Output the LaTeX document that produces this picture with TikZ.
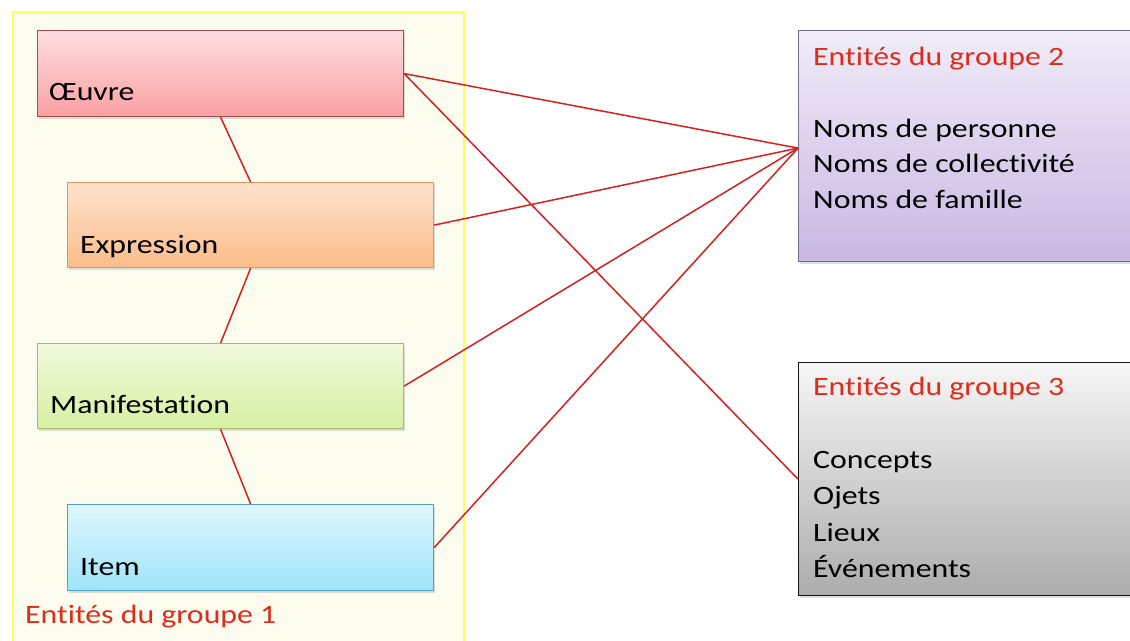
\documentclass[tikz,border=0pt]{standalone}
\usepackage{fontspec}
\setmainfont{Carlito}[FakeStretch=1.2, RawFeature={-liga;-clig;-calt;-dlig}]
\usetikzlibrary{shadows}
\definecolor{bgyellow}{RGB}{252,253,238}
\definecolor{bdyellow}{RGB}{255,255,90}
\definecolor{linered}{RGB}{212,32,32}
\definecolor{headred}{RGB}{222,44,28}
\definecolor{oeuvtop}{RGB}{253,222,224}
\definecolor{oeuvbot}{RGB}{251,160,163}
\definecolor{oeuvbd}{RGB}{165,75,75}
\definecolor{exptop}{RGB}{254,226,206}
\definecolor{expbot}{RGB}{252,189,138}
\definecolor{expbd}{RGB}{228,150,90}
\definecolor{mantop}{RGB}{241,249,220}
\definecolor{manbot}{RGB}{214,240,162}
\definecolor{manbd}{RGB}{160,190,100}
\definecolor{itemtop}{RGB}{222,246,253}
\definecolor{itembot}{RGB}{158,229,250}
\definecolor{itembd}{RGB}{80,160,190}
\definecolor{g2top}{RGB}{240,236,248}
\definecolor{g2bot}{RGB}{201,183,227}
\definecolor{g2bd}{RGB}{120,110,140}
\definecolor{g3top}{RGB}{246,246,246}
\definecolor{g3bot}{RGB}{172,172,172}
\definecolor{g3bd}{RGB}{20,20,20}
\tikzset{
  entbox/.style={rectangle, inner sep=0pt, anchor=north west, line width=1.2pt,
    drop shadow={shadow xshift=1.5pt, shadow yshift=-2pt, opacity=0.25}},
  boxtext/.style={anchor=base west, inner sep=0pt, font=\fontsize{26.5}{34}\selectfont, text=black},
  headtext/.style={boxtext, text=headred},
  link/.style={draw=linered, line width=1.5pt}
}
\begin{document}
\begin{tikzpicture}[x=1pt,y=-1pt]
\useasboundingbox (0,0) rectangle (1130,640);
% group 1 frame
\node[rectangle, anchor=north west, inner sep=0pt, fill=bgyellow, draw=bdyellow, line width=1.5pt,
  minimum width=451pt, minimum height=640pt] (g1) at (12,11) {};
% entity boxes
\node[entbox, minimum width=366pt, minimum height=86pt, top color=oeuvtop, bottom color=oeuvbot, draw=oeuvbd] (oeuvre) at (37,30) {};
\node[entbox, minimum width=366pt, minimum height=85pt, top color=exptop, bottom color=expbot, draw=expbd] (expr) at (67,182) {};
\node[entbox, minimum width=366pt, minimum height=85pt, top color=mantop, bottom color=manbot, draw=manbd] (manif) at (37,343) {};
\node[entbox, minimum width=366pt, minimum height=86pt, top color=itemtop, bottom color=itembot, draw=itembd] (item) at (67,504) {};
\node[boxtext] (toeuvre) at (49,100) {Œuvre};
\node[boxtext] (texpr) at (80,253) {Expression};
\node[boxtext] (tmanif) at (50,413) {Manifestation};
\node[boxtext] (titem) at (80,575) {Item};
\node[headtext] (tg1) at (25,623) {Entités du groupe 1};
% group 2
\node[entbox, minimum width=340pt, minimum height=231pt, top color=g2top, bottom color=g2bot, draw=g2bd] (g2) at (798,30) {};
\node[headtext] (tg2) at (813,65) {Entités du groupe 2};
\node[boxtext] (g2a) at (813,137) {Noms de personne};
\node[boxtext] (g2b) at (813,172.5) {Noms de collectivité};
\node[boxtext] (g2c) at (813,208) {Noms de famille};
% group 3
\node[entbox, minimum width=340pt, minimum height=233pt, top color=g3top, bottom color=g3bot, draw=g3bd] (g3) at (798,362) {};
\node[headtext] (tg3) at (813,395) {Entités du groupe 3};
\node[boxtext] (g3a) at (813,468) {Concepts};
\node[boxtext] (g3b) at (813,504) {Ojets};
\node[boxtext] (g3c) at (813,541) {Lieux};
\node[boxtext] (g3d) at (813,577) {Événements};
% connectors
\coordinate (hub) at ([yshift=-2pt]g2.west);
\draw[link] (oeuvre.south) -- (expr.north);
\draw[link] (expr.south) -- (manif.north);
\draw[link] (manif.south) -- (item.north);
\draw[link] (oeuvre.east) -- (hub);
\draw[link] (oeuvre.east) -- (g3.west);
\draw[link] (expr.east) -- (hub);
\draw[link] (manif.east) -- (hub);
\draw[link] (item.east) -- (hub);
\end{tikzpicture}
\end{document}
